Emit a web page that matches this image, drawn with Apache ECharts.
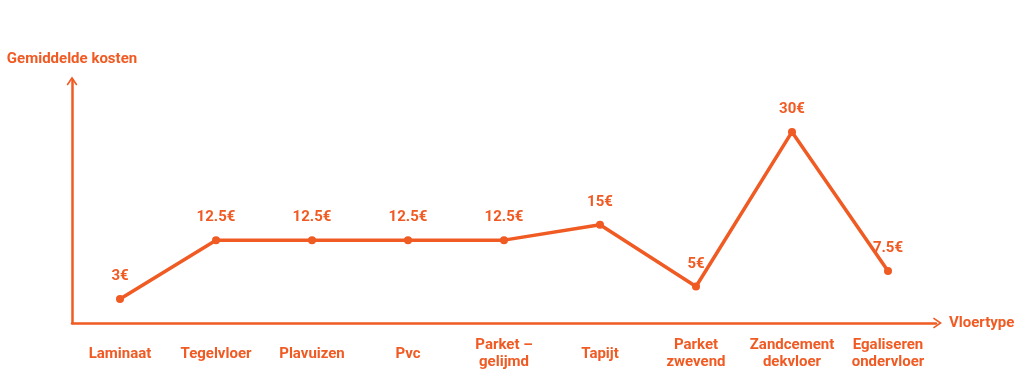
<!DOCTYPE html>
<html>
<head>
<meta charset="utf-8">
<script src="https://cdn.jsdelivr.net/npm/echarts@6/dist/echarts.min.js"></script>
<style>html,body{margin:0;padding:0;background:#fff}#c{width:1032px;height:390px}</style>
</head>
<body>
<div id="c"></div>
<script>
const categories = ['Laminaat', 'Tegelvloer', 'Plavuizen', 'Pvc', 'Parket –\ngelijmd', 'Tapijt', 'Parket\nzwevend', 'Zandcement\ndekvloer', 'Egaliseren\nondervloer'];
const costs = [3, 12.5, 12.5, 12.5, 12.5, 15, 5, 30, 7.5];
const xName = 'Vloertype';
const yName = 'Gemiddelde kosten';

const color = '#f05a23';
const font = 'Roboto, "Noto Sans", sans-serif';
const chevron = 'path://M0,9 L6,0 L12,9 L10.6,10 L6,3.2 L1.4,10 Z';

const chart = echarts.init(document.getElementById('c'));
chart.setOption({
  animation: false,
  grid: { left: 72, right: 96, top: 80, bottom: 67, outerBoundsMode: 'none', containLabel: false },
  xAxis: {
    type: 'category',
    data: categories,
    boundaryGap: true,
    name: xName,
    nameLocation: 'end',
    nameGap: 13,
    nameTextStyle: { color: color, fontFamily: font, fontWeight: 'bold', fontSize: 15 },
    axisLine: { onZero: false, lineStyle: { color: color, width: 2.5 }, symbol: ['none', chevron], symbolSize: [15, 9], symbolOffset: [0, 1.5] },
    axisTick: { show: false },
    axisLabel: { color: color, fontFamily: font, fontWeight: 'bold', fontSize: 15, lineHeight: 17, margin: 31, verticalAlign: 'middle', interval: 0 }
  },
  yAxis: {
    type: 'value',
    min: -0.9,
    max: 38.4,
    name: yName,
    nameLocation: 'end',
    nameGap: 13,
    nameTextStyle: { color: color, fontFamily: font, fontWeight: 'bold', fontSize: 15, align: 'center' },
    axisLine: { show: true, onZero: false, lineStyle: { color: color, width: 2.5 }, symbol: ['none', chevron], symbolSize: [15, 9], symbolOffset: [0, -1] },
    axisTick: { show: false },
    axisLabel: { show: false },
    splitLine: { show: false }
  },
  series: [{
    type: 'line',
    data: costs,
    symbol: 'circle',
    symbolSize: 8,
    lineStyle: { color: color, width: 3.5 },
    itemStyle: { color: color },
    label: { show: true, position: 'top', distance: 11, color: color, fontFamily: font, fontWeight: 'bold', fontSize: 15, formatter: p => p.value + '€' }
  }]
});
</script>
</body>
</html>
